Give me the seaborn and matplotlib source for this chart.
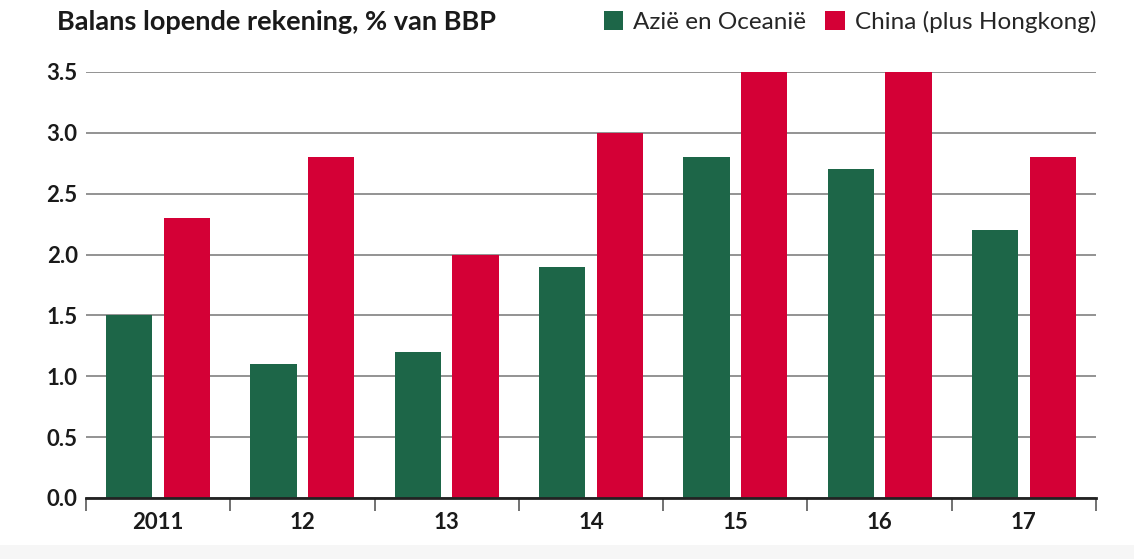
import matplotlib
matplotlib.use("Agg")
import matplotlib.pyplot as plt
import seaborn as sns
import pandas as pd
from matplotlib.patches import Rectangle
from matplotlib.ticker import FixedLocator

years = ["2011", "12", "13", "14", "15", "16", "17"]
asia = [1.5, 1.1, 1.2, 1.9, 2.8, 2.7, 2.2]
china = [2.3, 2.8, 2.0, 3.0, 3.5, 3.5, 2.8]
series_names = ["Azië en Oceanië", "China (plus Hongkong)"]
colors = ["#1d6648", "#d40036"]
yticks = [0.0, 0.5, 1.0, 1.5, 2.0, 2.5, 3.0, 3.5]

df = pd.DataFrame({
    "jaar": years * 2,
    "waarde": asia + china,
    "reeks": [series_names[0]] * len(years) + [series_names[1]] * len(years),
})

sns.set_theme(style="white")
plt.rcParams["font.family"] = ["Lato", "DejaVu Sans"]

fig = plt.figure(figsize=(11.34, 5.59), dpi=100)
ax = fig.add_axes([86 / 1134, 1 - 498 / 559, (1096 - 86) / 1134, (498 - 72) / 559])

sns.barplot(data=df, x="jaar", y="waarde", hue="reeks", palette=colors,
            width=0.8, gap=0.2, ax=ax, legend=False, saturation=1, zorder=3,
            linewidth=0, edgecolor="none")

ax.set_xlim(-0.5, len(years) - 0.5)
ax.set_ylim(0, 3.5)
ax.set_yticks(yticks)
ax.set_yticklabels([f"{v:.1f}" for v in yticks], fontsize=16, fontweight="bold", color="#1a1a1a")
ax.yaxis.grid(True, color="#8a8a8a", linewidth=1.3, zorder=0)
ax.set_axisbelow(True)
ax.tick_params(axis="y", length=0, pad=6)
ax.tick_params(axis="x", which="major", length=0, pad=10, labelsize=16, labelcolor="#1a1a1a")
for lbl in ax.get_xticklabels():
    lbl.set_fontweight("bold")
ax.xaxis.set_minor_locator(FixedLocator([i - 0.5 for i in range(len(years) + 1)]))
ax.tick_params(axis="x", which="minor", bottom=True, length=9, width=1.3,
               color="#666666", direction="out")
ax.set_xlabel("")
ax.set_ylabel("")
for s in ["top", "right", "left"]:
    ax.spines[s].set_visible(False)
ax.spines["bottom"].set_color("#222222")
ax.spines["bottom"].set_linewidth(2)
ax.spines["bottom"].set_zorder(5)

fig.text(57 / 1134, 1 - 22 / 559, "Balans lopende rekening, % van BBP",
         fontsize=19.5, fontweight="bold", color="#1a1a1a", va="center", ha="left")

handles = [Rectangle((0, 0), 1, 1, facecolor=c, edgecolor="none") for c in colors]
fig.legend(handles, series_names, loc="center right", bbox_to_anchor=(1096 / 1134, 1 - 22 / 559),
           ncol=2, frameon=False, fontsize=17.5, handlelength=0.8, handleheight=0.8,
           handletextpad=0.4, columnspacing=0.8, borderaxespad=0, borderpad=0)

fig.patches.append(Rectangle((0, 0), 1, 14 / 559, transform=fig.transFigure,
                             facecolor="#f6f6f6", edgecolor="none", zorder=-1))

fig.savefig("out.png", dpi=100)
